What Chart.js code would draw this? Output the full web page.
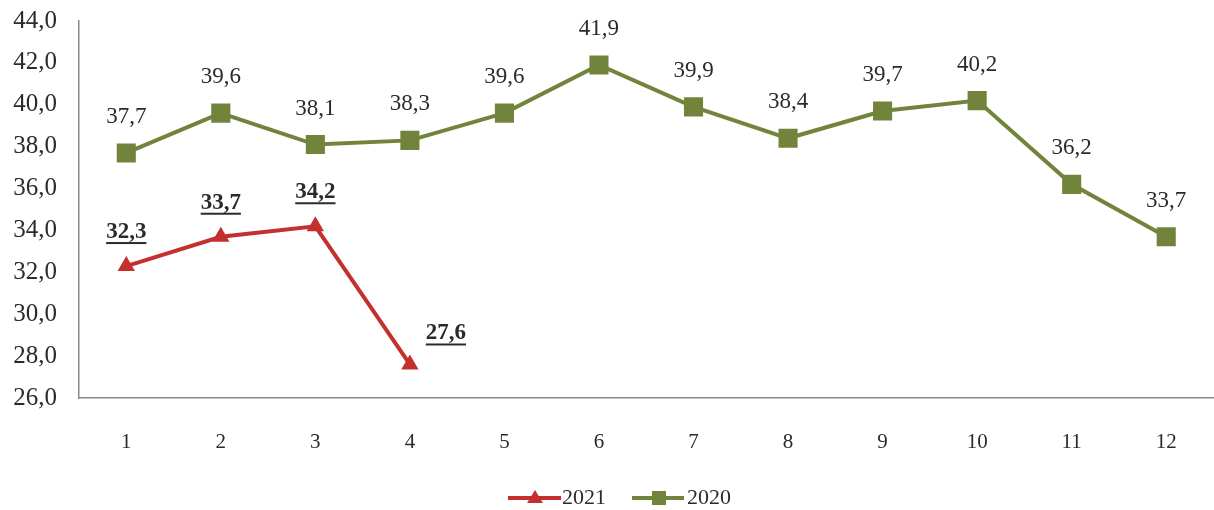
<!DOCTYPE html>
<html>
<head>
<meta charset="utf-8">
<script src="https://cdn.jsdelivr.net/npm/chart.js@4/dist/chart.umd.min.js"></script>
<style>
html,body{margin:0;padding:0;background:#fff;overflow:hidden;width:1214px;height:510px;}
canvas{display:block;}
</style>
</head>
<body>
<canvas id="c" width="1227" height="510"></canvas>
<script>
const categories = ['1','2','3','4','5','6','7','8','9','10','11','12'];
const values2021 = [32.3, 33.7, 34.2, 27.6];
const values2020 = [37.7, 39.6, 38.1, 38.3, 39.6, 41.9, 39.9, 38.4, 39.7, 40.2, 36.2, 33.7];
const seriesNames = ['2021', '2020'];
const yMin = 26, yMax = 44, yStep = 2;

const RED = '#c3302d';
const GREEN = '#72843b';
const TEXT = '#2b2b2b';
const FONT = '"Liberation Serif", "Times New Roman", serif';

const fmt = v => v.toFixed(1).replace('.', ',');

const labelPlugin = {
  id: 'valueLabels',
  afterDatasetsDraw(chart) {
    const ctx = chart.ctx;
    ctx.save();
    chart.data.datasets.forEach((ds, i) => {
      const meta = chart.getDatasetMeta(i);
      const cfg = ds.labelCfg;
      meta.data.forEach((pt, j) => {
        const v = ds.data[j];
        if (v == null) return;
        const off = (cfg.offsets && cfg.offsets[j]) || cfg.offset;
        const x = pt.x + off[0], y = pt.y + off[1];
        ctx.font = (cfg.bold ? 'bold ' : '') + '23px ' + FONT;
        ctx.fillStyle = TEXT;
        ctx.textAlign = 'center';
        ctx.textBaseline = 'middle';
        const t = fmt(v);
        ctx.fillText(t, x, y);
        if (cfg.underline) {
          const w = ctx.measureText(t).width;
          ctx.fillRect(x - w / 2, y + 10, w, 2);
        }
      });
    });
    ctx.restore();
  },
  afterDraw(chart) {
    const ctx = chart.ctx;
    ctx.save();
    const y = 498;
    // 2021
    ctx.strokeStyle = RED; ctx.lineWidth = 4;
    ctx.beginPath(); ctx.moveTo(508, y); ctx.lineTo(561, y); ctx.stroke();
    ctx.fillStyle = RED;
    ctx.beginPath(); ctx.moveTo(535, y - 8); ctx.lineTo(543, y + 5); ctx.lineTo(527, y + 5); ctx.closePath(); ctx.fill();
    ctx.font = '22px ' + FONT; ctx.fillStyle = TEXT; ctx.textBaseline = 'middle'; ctx.textAlign = 'left';
    ctx.fillText(seriesNames[0], 562, y);
    // 2020
    ctx.strokeStyle = GREEN;
    ctx.beginPath(); ctx.moveTo(632, y); ctx.lineTo(684, y); ctx.stroke();
    ctx.fillStyle = GREEN; ctx.fillRect(652, y - 7, 14, 14);
    ctx.fillStyle = TEXT;
    ctx.fillText(seriesNames[1], 687, y);
    ctx.restore();
  }
};

new Chart(document.getElementById('c'), {
  type: 'line',
  data: {
    labels: categories,
    datasets: [
      {
        label: seriesNames[0], data: values2021,
        borderColor: RED, backgroundColor: RED, borderWidth: 4,
        pointStyle: 'triangle', pointRadius: 10, pointHoverRadius: 10,
        pointBorderWidth: 0, tension: 0, order: 1,
        labelCfg: { bold: true, underline: true, offset: [0, -34], offsets: {3: [36, -31]} }
      },
      {
        label: seriesNames[1], data: values2020,
        borderColor: GREEN, backgroundColor: GREEN, borderWidth: 4,
        pointStyle: 'rect', pointRadius: 13.5, pointHoverRadius: 13.5,
        pointBorderWidth: 0, tension: 0, order: 2,
        labelCfg: { bold: false, underline: false, offset: [0, -36] }
      }
    ]
  },
  options: {
    responsive: false,
    animation: false,
    events: [],
    layout: { padding: { top: 21, right: 0, bottom: 0, left: 0 } },
    plugins: { legend: { display: false }, tooltip: { enabled: false } },
    scales: {
      x: {
        offset: true,
        grid: { display: false, drawTicks: false },
        border: { display: true, color: '#8a8a8a', width: 1.5 },
        ticks: { color: TEXT, font: { family: FONT, size: 21 }, padding: 32, maxRotation: 0 },
        afterFit: s => { s.height = 112; s.paddingLeft = 0; s.paddingRight = 0; }
      },
      y: {
        min: yMin, max: yMax,
        grid: { display: false, drawTicks: false },
        border: { display: true, color: '#8a8a8a', width: 1.5 },
        ticks: { stepSize: yStep, color: TEXT, font: { family: FONT, size: 25 }, padding: 22,
          callback: v => fmt(v) },
        afterFit: s => { s.width = 79; s.paddingTop = 10; s.paddingBottom = 10; }
      }
    }
  },
  plugins: [labelPlugin]
});
</script>
</body>
</html>
